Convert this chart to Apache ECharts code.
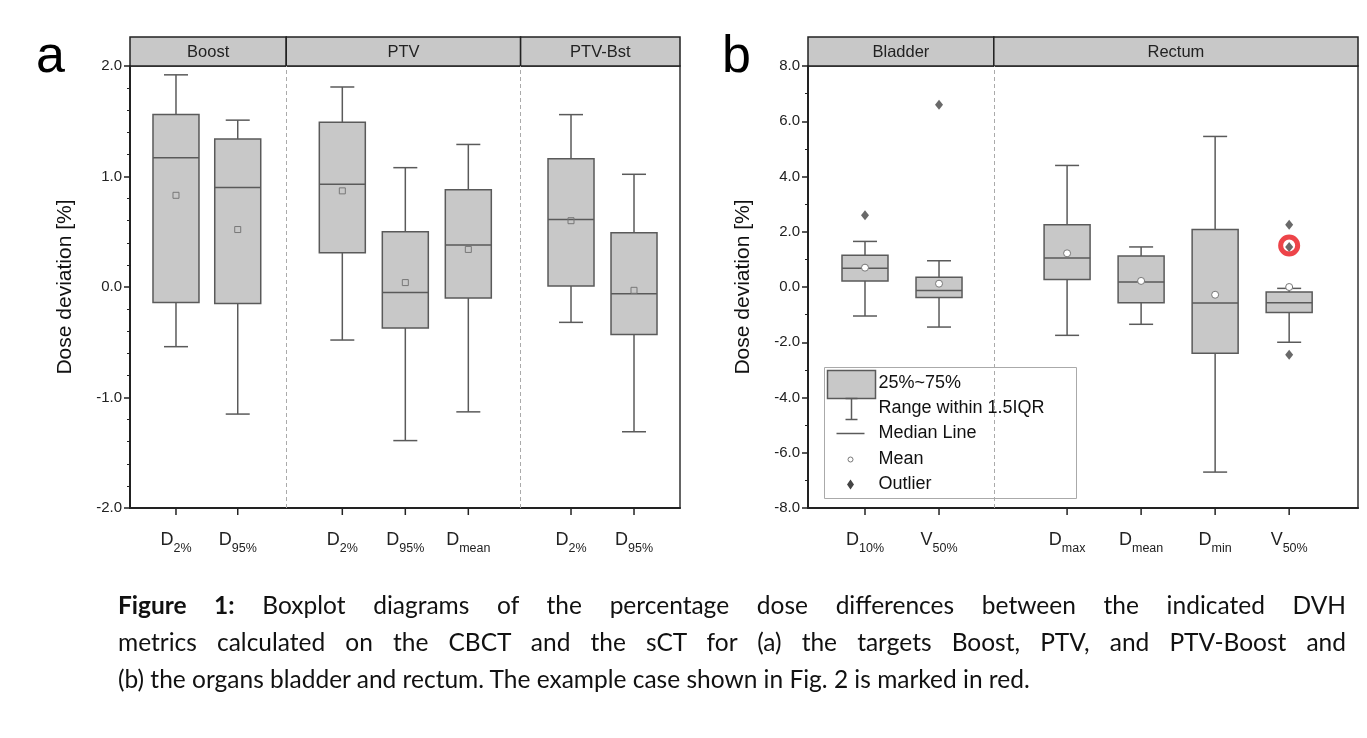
<!DOCTYPE html>
<html>
<head>
<meta charset="utf-8">
<script src="https://cdn.jsdelivr.net/npm/echarts@6/dist/echarts.min.js"></script>
<style>
  body { margin: 0; background: #fff; }
  #chart { position: absolute; left: 0; top: 0; width: 1367px; height: 738px; }
  #caption { position: absolute; left: 118px; top: 586px; width: 1228px; font-family: Lato, 'Open Sans', sans-serif;
    font-size: 24.5px; line-height: 37px; color: #111; }
  #caption span { display: block; text-align: justify; text-align-last: justify; }
  #caption span.last { text-align-last: left; }
</style>
</head>
<body>
<div id="chart"></div>
<div id="caption"><span><b>Figure 1:</b> Boxplot diagrams of the percentage dose differences between the indicated DVH</span><span>metrics calculated on the CBCT and the sCT for (a) the targets Boost, PTV, and PTV-Boost and</span><span class="last">(b) the organs bladder and rectum. The example case shown in Fig. 2 is marked in red.</span></div>
<script>
  // panel a: positions, labels, stats [whiskLow, q1, median, q3, whiskHigh, mean]
  var posA = [0.73, 1.71, 3.37, 4.37, 5.37, 7.0, 8.0];
  var labA = [['D', '2%'], ['D', '95%'], ['D', '2%'], ['D', '95%'], ['D', 'mean'], ['D', '2%'], ['D', '95%']];
  var statsA = [
    [-0.54, -0.14, 1.17, 1.56, 1.92, 0.83],
    [-1.15, -0.15, 0.90, 1.34, 1.51, 0.52],
    [-0.48, 0.31, 0.93, 1.49, 1.81, 0.87],
    [-1.39, -0.37, -0.05, 0.50, 1.08, 0.04],
    [-1.13, -0.10, 0.38, 0.88, 1.29, 0.34],
    [-0.32, 0.01, 0.61, 1.16, 1.56, 0.60],
    [-1.31, -0.43, -0.06, 0.49, 1.02, -0.03]
  ];
  var groupsA = ['Boost', 'PTV', 'PTV-Bst'];
  var dividersA = [2.48, 6.2];

  // panel b
  var posB = [0.77, 1.77, 3.5, 4.5, 5.5, 6.5];
  var labB = [['D', '10%'], ['V', '50%'], ['D', 'max'], ['D', 'mean'], ['D', 'min'], ['V', '50%']];
  var statsB = [
    [-1.05, 0.22, 0.68, 1.15, 1.65, 0.70],
    [-1.45, -0.38, -0.13, 0.35, 0.95, 0.12],
    [-1.75, 0.27, 1.05, 2.25, 4.4, 1.22],
    [-1.35, -0.57, 0.18, 1.12, 1.45, 0.22],
    [-6.7, -2.4, -0.58, 2.08, 5.45, -0.28],
    [-2.0, -0.92, -0.57, -0.18, -0.05, 0.0]
  ];
  var outliersB = [[0.77, 2.6], [1.77, 6.6], [6.5, 2.25], [6.5, 1.45], [6.5, -2.45]];
  var highlightB = [[6.5, 1.5]];
  var groupsB = ['Bladder', 'Rectum'];
  var dividersB = [2.51];

  var stroke = '#5a5a5a';
  var fill = '#c8c8c8';
  var font = 'Liberation Sans, Arial';

  function boxData(pos, stats) {
    return pos.map(function (p, i) { return [p].concat(stats[i]); });
  }

  function boxRender(meanType) {
    return function (params, api) {
      var x = api.value(0);
      var lo = api.coord([x, api.value(1)]);
      var q1 = api.coord([x, api.value(2)]);
      var md = api.coord([x, api.value(3)]);
      var q3 = api.coord([x, api.value(4)]);
      var hi = api.coord([x, api.value(5)]);
      var mn = api.coord([x, api.value(6)]);
      var hw = 23, cw = 12, cx = lo[0];
      var ls = { stroke: stroke, lineWidth: 1.5 };
      var kids = [
        { type: 'line', shape: { x1: cx, y1: hi[1], x2: cx, y2: q3[1] }, style: ls },
        { type: 'line', shape: { x1: cx, y1: q1[1], x2: cx, y2: lo[1] }, style: ls },
        { type: 'line', shape: { x1: cx - cw, y1: hi[1], x2: cx + cw, y2: hi[1] }, style: ls },
        { type: 'line', shape: { x1: cx - cw, y1: lo[1], x2: cx + cw, y2: lo[1] }, style: ls },
        { type: 'rect', shape: { x: cx - hw, y: q3[1], width: hw * 2, height: q1[1] - q3[1] }, style: { fill: fill, stroke: stroke, lineWidth: 1.5 } },
        { type: 'line', shape: { x1: cx - hw, y1: md[1], x2: cx + hw, y2: md[1] }, style: ls }
      ];
      if (meanType === 'square') {
        kids.push({ type: 'rect', shape: { x: cx - 3, y: mn[1] - 3, width: 6, height: 6 }, style: { fill: 'none', stroke: '#777', lineWidth: 1 } });
      } else {
        kids.push({ type: 'circle', shape: { cx: cx, cy: mn[1], r: 3.5 }, style: { fill: '#fff', stroke: '#777', lineWidth: 1 } });
      }
      return { type: 'group', children: kids };
    };
  }

  function labelRender(labels, ymin) {
    return function (params, api) {
      var x = api.value(0);
      var p = api.coord([x, ymin]);
      var l = labels[params.dataIndex];
      return { type: 'group', children: [
        { type: 'line', shape: { x1: p[0], y1: p[1], x2: p[0], y2: p[1] + 7 }, style: { stroke: '#222', lineWidth: 1.5 } },
        { type: 'text', x: p[0], y: p[1] + 47, style: {
          text: '{b|' + l[0] + '}{s|' + l[1] + '}', align: 'center', verticalAlign: 'bottom',
          rich: {
            b: { fontSize: 18, fontFamily: font, fill: '#222', verticalAlign: 'bottom', lineHeight: 26, padding: [0, 0, 6, 0] },
            s: { fontSize: 12.5, fontFamily: font, fill: '#222', verticalAlign: 'bottom', lineHeight: 14 }
          } } }
      ] };
    };
  }

  function yAxis(gi, min, max, interval, minorSplit) {
    return {
      gridIndex: gi, type: 'value', min: min, max: max, interval: interval,
      name: 'Dose deviation [%]', nameLocation: 'middle', nameGap: 54,
      nameTextStyle: { fontSize: 21, fontFamily: font, color: '#111' },
      axisLine: { show: true, lineStyle: { color: '#222', width: 2 } },
      axisTick: { show: true, length: 6, lineStyle: { color: '#222', width: 1.5 } },
      minorTick: { show: true, splitNumber: minorSplit, length: 3, lineStyle: { color: '#222' } },
      axisLabel: { fontSize: 15, fontFamily: font, color: '#222', formatter: function (v) { return v.toFixed(1); } },
      splitLine: { show: false }
    };
  }

  function xAxis(gi, max) {
    return {
      gridIndex: gi, type: 'value', min: 0, max: max,
      axisLine: { show: true, onZero: false, lineStyle: { color: '#222', width: 2 } },
      axisTick: { show: false }, axisLabel: { show: false }, splitLine: { show: false }
    };
  }

  function dividerLine(xs) {
    return {
      silent: true, symbol: 'none', label: { show: false },
      lineStyle: { type: [4, 3], color: '#aaa', width: 1 },
      data: xs.map(function (v) { return { xAxis: v }; })
    };
  }

  var chart = echarts.init(document.getElementById('chart'));
  var option = {
    animation: false,
    grid: [
      { left: 130, top: 66, width: 550, height: 442, show: true, borderColor: '#333', borderWidth: 1.5, backgroundColor: 'transparent' },
      { left: 808, top: 66, width: 550, height: 442, show: true, borderColor: '#333', borderWidth: 1.5, backgroundColor: 'transparent' }
    ],
    xAxis: [xAxis(0, 8.73), xAxis(1, 7.43)],
    yAxis: [yAxis(0, -2, 2, 1, 5), yAxis(1, -8, 8, 2, 2)],
    series: [
      { type: 'custom', xAxisIndex: 0, yAxisIndex: 0, renderItem: boxRender('square'), data: boxData(posA, statsA),
        markLine: dividerLine(dividersA), z: 3 },
      { type: 'custom', xAxisIndex: 0, yAxisIndex: 0, renderItem: labelRender(labA, -2), data: posA.map(function (p) { return [p]; }), clip: false },
      { type: 'custom', xAxisIndex: 1, yAxisIndex: 1, renderItem: boxRender('circle'), data: boxData(posB, statsB),
        markLine: dividerLine(dividersB), z: 3 },
      { type: 'custom', xAxisIndex: 1, yAxisIndex: 1, renderItem: labelRender(labB, -8), data: posB.map(function (p) { return [p]; }), clip: false },
      { type: 'scatter', xAxisIndex: 1, yAxisIndex: 1, symbol: 'diamond', symbolSize: [8, 10], itemStyle: { color: '#444' }, data: outliersB, z: 4 },
      { type: 'scatter', xAxisIndex: 1, yAxisIndex: 1, symbol: 'circle', symbolSize: 17, itemStyle: { color: 'none', borderColor: '#e8151b', borderWidth: 5 }, data: highlightB, z: 5 }
    ]
  };
  chart.setOption(option);

  // header strips above each panel, split at the group dividers
  function headers(xi, max, divs, names) {
    var edges = [0].concat(divs, [max]).map(function (v) { return chart.convertToPixel({ xAxisIndex: xi }, v); });
    var out = [];
    for (var i = 0; i < names.length; i++) {
      out.push({ type: 'rect', shape: { x: edges[i], y: 37, width: edges[i + 1] - edges[i], height: 29 },
        style: { fill: '#c8c8c8', stroke: '#222', lineWidth: 1.5 } });
      out.push({ type: 'text', x: (edges[i] + edges[i + 1]) / 2, y: 52,
        style: { text: names[i], align: 'center', verticalAlign: 'middle', fontSize: 16.5, fontFamily: font, fill: '#222' } });
    }
    return out;
  }

  var g = [];
  g = g.concat(headers(0, 8.73, dividersA, groupsA), headers(1, 7.43, dividersB, groupsB));
  g.push({ type: 'text', x: 36, y: 58, style: { text: 'a', fontSize: 52, fontFamily: font, fill: '#000', verticalAlign: 'middle' } });
  g.push({ type: 'text', x: 722, y: 58, style: { text: 'b', fontSize: 52, fontFamily: font, fill: '#000', verticalAlign: 'middle' } });

  // legend box in panel b
  var lf = { fontSize: 18, fontFamily: font, fill: '#111', verticalAlign: 'middle' };
  g.push({ type: 'group', left: 824, top: 367, children: [
    { type: 'rect', shape: { x: 0, y: 0, width: 252, height: 131 }, style: { fill: '#fff', stroke: '#aaa', lineWidth: 1 } },
    { type: 'rect', shape: { x: 3, y: 3, width: 48, height: 28 }, style: { fill: fill, stroke: stroke, lineWidth: 1.5 } },
    { type: 'text', x: 54, y: 16, style: Object.assign({ text: '25%~75%' }, lf) },
    { type: 'line', shape: { x1: 27, y1: 31, x2: 27, y2: 52 }, style: { stroke: stroke, lineWidth: 1.5 } },
    { type: 'line', shape: { x1: 21, y1: 31, x2: 33, y2: 31 }, style: { stroke: stroke, lineWidth: 1.5 } },
    { type: 'line', shape: { x1: 21, y1: 52, x2: 33, y2: 52 }, style: { stroke: stroke, lineWidth: 1.5 } },
    { type: 'text', x: 54, y: 41, style: Object.assign({ text: 'Range within 1.5IQR' }, lf) },
    { type: 'line', shape: { x1: 12, y1: 66, x2: 40, y2: 66 }, style: { stroke: stroke, lineWidth: 1.5 } },
    { type: 'text', x: 54, y: 66, style: Object.assign({ text: 'Median Line' }, lf) },
    { type: 'circle', shape: { cx: 26, cy: 92, r: 2.5 }, style: { fill: '#fff', stroke: '#777', lineWidth: 1 } },
    { type: 'text', x: 54, y: 92, style: Object.assign({ text: 'Mean' }, lf) },
    { type: 'polygon', shape: { points: [[26, 112], [29.5, 117], [26, 122], [22.5, 117]] }, style: { fill: '#444' } },
    { type: 'text', x: 54, y: 117, style: Object.assign({ text: 'Outlier' }, lf) }
  ] });
  chart.setOption({ graphic: g });
</script>
</body>
</html>
